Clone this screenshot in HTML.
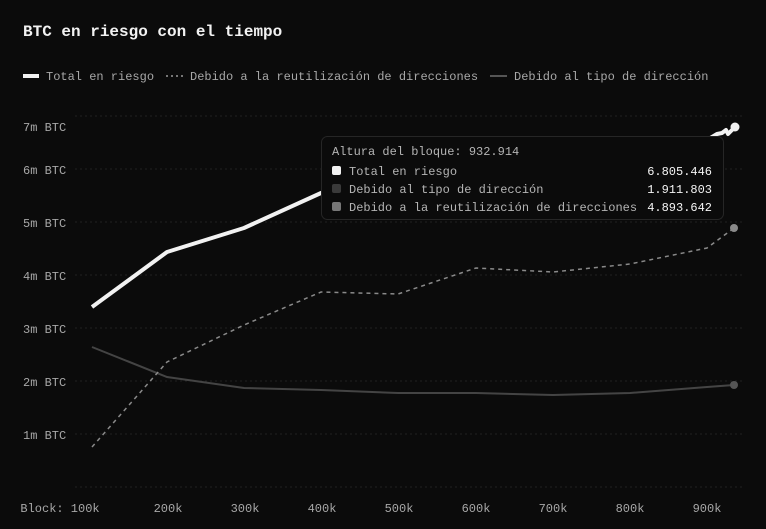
<!DOCTYPE html>
<html><head><meta charset="utf-8"><style>
html,body{margin:0;padding:0;background:#0b0b0b;width:766px;height:529px;overflow:hidden}
svg{display:block;font-family:"Liberation Mono",monospace}
</style></head><body>
<svg width="766" height="529" viewBox="0 0 766 529">
<rect width="766" height="529" fill="#0b0b0b"/>
<text x="23" y="36" fill="#f2f2f2" font-size="16" font-weight="bold">BTC en riesgo con el tiempo</text>
<g font-size="12" fill="#a8a8a8">
<rect x="23" y="74" width="16" height="4" fill="#f2f2f2"/>
<text x="46" y="80">Total en riesgo</text>
<line x1="166" y1="76" x2="184" y2="76" stroke="#9a9a9a" stroke-width="1.5" stroke-dasharray="2,3"/>
<text x="190" y="80">Debido a la reutilización de direcciones</text>
<line x1="490" y1="76" x2="507" y2="76" stroke="#555" stroke-width="2"/>
<text x="514" y="80">Debido al tipo de dirección</text>
</g>
<g stroke="#222" stroke-width="1" stroke-dasharray="2,3">
<line x1="75" y1="116" x2="742" y2="116"/>
<line x1="75" y1="169" x2="742" y2="169"/>
<line x1="75" y1="222" x2="742" y2="222"/>
<line x1="75" y1="275" x2="742" y2="275"/>
<line x1="75" y1="328" x2="742" y2="328"/>
<line x1="75" y1="381" x2="742" y2="381"/>
<line x1="75" y1="434" x2="742" y2="434"/>
<line x1="75" y1="487" x2="742" y2="487"/>
</g>
<g font-size="12" fill="#a8a8a8">
<text x="23" y="131">7m BTC</text>
<text x="23" y="174">6m BTC</text>
<text x="23" y="227">5m BTC</text>
<text x="23" y="280">4m BTC</text>
<text x="23" y="333">3m BTC</text>
<text x="23" y="386">2m BTC</text>
<text x="23" y="439">1m BTC</text>
</g>
<g font-size="12" fill="#a8a8a8" text-anchor="middle">
<text x="60" y="512">Block: 100k</text>
<text x="168" y="512">200k</text>
<text x="245" y="512">300k</text>
<text x="322" y="512">400k</text>
<text x="399" y="512">500k</text>
<text x="476" y="512">600k</text>
<text x="553" y="512">700k</text>
<text x="630" y="512">800k</text>
<text x="707" y="512">900k</text>
</g>
<polyline fill="none" stroke="#444" stroke-width="2" points="92,347 167,377 244,388 321,390 398,393 476,393 553,395 630,393 707,387 734,385"/>
<circle cx="734" cy="385" r="4" fill="#555"/>
<polyline fill="none" stroke="#8a8a8a" stroke-width="1.5" stroke-dasharray="4,4" points="92,447 167,362 244,325 321,292 398,294 476,268 553,272 630,264 707,248 734,228"/>
<circle cx="734" cy="228" r="4" fill="#8a8a8a"/>
<polyline fill="none" stroke="#f2f2f2" stroke-width="4" stroke-linejoin="round" points="92,307 167,252 244,228 321,193 398,174 476,164 553,158 630,150 707,140 717,134 722,133 726,130 728,134 732,130 735,127"/>
<circle cx="735" cy="127" r="4.5" fill="#f2f2f2"/>
<rect x="321.5" y="136.5" width="402" height="83" rx="6" fill="#0b0b0b" stroke="#262626"/>
<g font-size="12">
<text x="332" y="155" fill="#b5b5b5">Altura del bloque: 932.914</text>
<rect x="332" y="166" width="9" height="9" rx="2" fill="#f2f2f2"/>
<text x="349" y="175" fill="#b5b5b5">Total en riesgo</text>
<text x="712" y="175" fill="#f5f5f5" text-anchor="end">6.805.446</text>
<rect x="332" y="184" width="9" height="9" rx="2" fill="#3a3a3a"/>
<text x="349" y="193" fill="#b5b5b5">Debido al tipo de dirección</text>
<text x="712" y="193" fill="#f5f5f5" text-anchor="end">1.911.803</text>
<rect x="332" y="202" width="9" height="9" rx="2" fill="#777"/>
<text x="349" y="211" fill="#b5b5b5">Debido a la reutilización de direcciones</text>
<text x="712" y="211" fill="#f5f5f5" text-anchor="end">4.893.642</text>
</g>
</svg>
</body></html>
